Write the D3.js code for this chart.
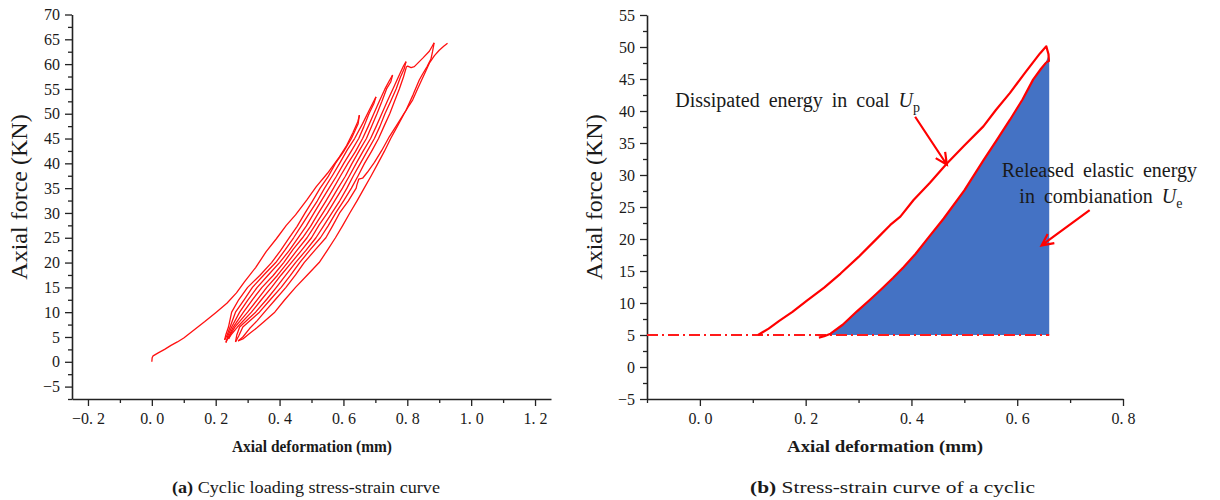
<!DOCTYPE html>
<html>
<head>
<meta charset="utf-8">
<script src="https://cdn.jsdelivr.net/npm/d3@7"></script>
<style>
body { margin: 0; background: #fff; }
svg text { font-family: "Liberation Serif", "Times New Roman", serif; fill: #1a1a1a; }
</style>
</head>
<body>
<svg id="fig" width="1220" height="500"></svg>
<script>
// ---- (a) cyclic loading: each branch is [axial deformation mm, axial force kN]
const firstLoad = [[0,0],[0.001,0.8],[0.004,1.2],[0.02,1.8],[0.04,2.5],[0.06,3.3],[0.08,4.0],[0.1,4.8],[0.13,6.3],[0.166,8.1],[0.2,9.9],[0.235,11.8],[0.265,13.9],[0.29,16.1],[0.325,19.0],[0.358,22.2],[0.39,24.8],[0.421,27.5],[0.45,29.6],[0.485,32.6],[0.515,35.3],[0.55,38.0],[0.5875,41.3],[0.61,43.6],[0.63,46.2],[0.645,48.4],[0.65,49.7]];
const unload1 = [[0.65,49.7],[0.646,48.0],[0.625,45],[0.6,42.3],[0.575,40],[0.552,37.3],[0.527,35],[0.503,32.4],[0.48,30],[0.455,27.3],[0.43,25],[0.403,22.4],[0.375,20],[0.338,17.4],[0.30,15],[0.272,12.5],[0.25,10],[0.24,7],[0.232,5.5],[0.228,4.4]];
const reload1 = [[0.228,4.4],[0.236,5.4],[0.245,7],[0.262,10],[0.29,12.6],[0.315,15],[0.352,17.6],[0.388,20],[0.418,22.6],[0.444,25],[0.47,27.6],[0.494,30],[0.518,32.4],[0.541,35],[0.566,37.6],[0.588,40],[0.612,42.7],[0.635,45],[0.66,48],[0.683,51],[0.702,53.4]];
const unload2 = [[0.702,53.4],[0.695,52],[0.68,50],[0.664,47.4],[0.648,45],[0.625,42.5],[0.601,40],[0.578,37.4],[0.555,35],[0.532,32.6],[0.508,30],[0.484,27.4],[0.458,25],[0.43,22.4],[0.40,20],[0.366,17.6],[0.33,15],[0.30,12.4],[0.275,10],[0.25,7],[0.238,5.2],[0.232,3.9]];
const reload2 = [[0.232,3.9],[0.24,5],[0.255,7],[0.287,10],[0.316,12.6],[0.345,15],[0.38,17.4],[0.413,20],[0.443,22.7],[0.472,25],[0.497,27.3],[0.522,30],[0.545,32.4],[0.569,35],[0.592,37.6],[0.614,40],[0.638,42.4],[0.66,45],[0.678,47.5],[0.695,50],[0.713,52.6],[0.73,55],[0.745,56.8],[0.754,57.8]];
const unload3 = [[0.754,57.8],[0.748,56.4],[0.735,55],[0.72,52.4],[0.705,50],[0.689,47.6],[0.672,45],[0.65,42.6],[0.627,40],[0.606,37.4],[0.583,35],[0.56,32.5],[0.536,30],[0.51,27.4],[0.486,25],[0.455,22.5],[0.425,20],[0.393,17.4],[0.36,15],[0.33,12.5],[0.30,10],[0.26,7],[0.245,5.4],[0.24,4.6]];
const reload3 = [[0.24,4.6],[0.25,5.6],[0.268,7],[0.312,10],[0.343,12.5],[0.375,15],[0.405,17.5],[0.437,20],[0.468,22.4],[0.50,25],[0.524,27.6],[0.55,30],[0.574,32.6],[0.597,35],[0.618,37.4],[0.64,40],[0.663,42.6],[0.685,45],[0.703,47.5],[0.72,50],[0.738,52.6],[0.755,55],[0.772,57.4],[0.788,59.6],[0.796,60.5]];
const unload4 = [[0.796,60.5],[0.79,59],[0.778,57.3],[0.765,55],[0.748,52.5],[0.73,50],[0.714,47.4],[0.697,45],[0.675,42.5],[0.653,40],[0.632,37.6],[0.611,35],[0.588,32.4],[0.564,30],[0.54,27.6],[0.514,25],[0.482,22.4],[0.45,20],[0.42,17.5],[0.39,15],[0.36,12.6],[0.325,10],[0.275,7],[0.266,5.4],[0.262,4.0]];
const reload4 = [[0.262,4.0],[0.272,5.2],[0.285,7],[0.337,10],[0.372,12.6],[0.405,15],[0.434,17.4],[0.463,20],[0.496,22.6],[0.528,25],[0.552,27.4],[0.576,30],[0.602,32.6],[0.625,35],[0.646,37.5],[0.666,40],[0.688,42.4],[0.71,45],[0.728,47.6],[0.745,50],[0.76,52.5],[0.775,55],[0.788,57.4],[0.797,59.4],[0.801,59.6],[0.812,59.3],[0.822,59.5],[0.836,60.4],[0.85,61.3],[0.869,62.6],[0.878,63.6],[0.884,64.3]];
const unload5 = [[0.884,64.3],[0.879,62.5],[0.874,61],[0.862,59.5],[0.848,58],[0.8375,56.8],[0.818,53.8],[0.796,50.7],[0.77,48],[0.744,45.4],[0.72,42.6],[0.697,40.2],[0.675,38.2],[0.66,37],[0.648,36.8],[0.642,35.6],[0.64,35],[0.615,32.4],[0.588,30],[0.567,27.5],[0.545,25],[0.515,22.8],[0.477,20],[0.45,17.5],[0.42,15],[0.385,12.4],[0.358,10.4],[0.33,8.3],[0.306,6.7],[0.285,5],[0.27,4.2]];
const reload5 = [[0.27,4.2],[0.285,4.6],[0.306,5.7],[0.33,6.9],[0.35,8],[0.385,10],[0.415,12.4],[0.45,15],[0.487,17.5],[0.524,20],[0.55,22.5],[0.575,25],[0.598,27.5],[0.62,30],[0.643,32.5],[0.665,35],[0.687,37.5],[0.708,40],[0.728,42.4],[0.748,45],[0.77,47.6],[0.79,50],[0.805,51.6],[0.817,52.8],[0.832,55],[0.845,56.8],[0.858,58.6],[0.869,60.2],[0.885,61.7],[0.9,62.8],[0.914,63.6],[0.926,64.2]];
const cycles = [firstLoad, unload1, reload1, unload2, reload2, unload3, reload3, unload4, reload4, unload5, reload5];

// ---- (b) a single cycle
const loadCurve = [[0.11,5],[0.13,6],[0.15,7.2],[0.175,8.6],[0.203,10.4],[0.235,12.4],[0.266,14.6],[0.30,17.2],[0.335,20.1],[0.36,22.2],[0.379,23.5],[0.404,26.1],[0.435,28.8],[0.467,31.8],[0.5,34.6],[0.536,37.6],[0.56,40.2],[0.586,42.8],[0.615,46],[0.643,49],[0.655,50.1],[0.659,48.9],[0.66,47.8],[0.655,47.6]];
const unloadCurve = [[0.655,47.6],[0.645,46.6],[0.63,44.9],[0.61,41.8],[0.586,38.6],[0.56,35.3],[0.536,32.3],[0.5,27.6],[0.461,23.2],[0.429,19.9],[0.408,17.7],[0.385,15.6],[0.365,13.9],[0.341,12.0],[0.32,10.4],[0.297,8.7],[0.27,6.6],[0.247,5.2],[0.235,4.8],[0.225,4.6]];
const elasticArea = [[0.242,5],[0.247,5.2],[0.27,6.6],[0.297,8.7],[0.32,10.4],[0.341,12.0],[0.365,13.9],[0.385,15.6],[0.408,17.7],[0.429,19.9],[0.461,23.2],[0.5,27.6],[0.536,32.3],[0.56,35.3],[0.586,38.6],[0.61,41.8],[0.63,44.9],[0.645,46.6],[0.655,47.8],[0.6605,49.0]];
const baseForce = 5;
const baseRange = [-0.1, 0.6605];

// ticks
const xTicksA = [-0.2, 0, 0.2, 0.4, 0.6, 0.8, 1.0, 1.2];
const xMinorA = [-0.1, 0.1, 0.3, 0.5, 0.7, 0.9, 1.1];
const yTicksA = d3.range(-5, 71, 5);
const yMinorA = d3.range(-7.5, 70, 5);
const xTicksB = [0, 0.2, 0.4, 0.6, 0.8];
const xMinorB = [-0.1, 0.1, 0.3, 0.5, 0.7];
const yTicksB = d3.range(-5, 56, 5);
const yMinorB = d3.range(-2.5, 55, 5);

const svg = d3.select("#fig");
const fmt = d3.format(".1f");

const xA = d3.scaleLinear().domain([-0.25, 1.25]).range([72, 551]);
const yA = d3.scaleLinear().domain([-7.5, 70]).range([399, 14.5]);
const xB = d3.scaleLinear().domain([-0.1, 0.8]).range([647, 1123]);
const yB = d3.scaleLinear().domain([-5, 55]).range([399, 15]);

function axes(x, y, xt, xm, yt, ym) {
    let g = svg.append("g");
    let base = y.range()[0], left = x.range()[0];
    g.append("g").attr("transform", "translate(0," + base + ")")
        .call(d3.axisBottom(x).tickValues(xm).tickSize(4).tickFormat("").tickSizeOuter(0))
        .call(s => s.select(".domain").remove());
    g.append("g").attr("transform", "translate(" + left + ",0)")
        .call(d3.axisLeft(y).tickValues(ym).tickSize(4).tickFormat("").tickSizeOuter(0))
        .call(s => s.select(".domain").remove());
    g.append("g").attr("class", "xa").attr("transform", "translate(0," + base + ")")
        .call(d3.axisBottom(x).tickValues(xt).tickSize(7).tickPadding(7).tickSizeOuter(0)
            .tickFormat(d => fmt(d).replace(".", ". ")));
    g.append("g").attr("class", "ya").attr("transform", "translate(" + left + ",0)")
        .call(d3.axisLeft(y).tickValues(yt).tickSize(7).tickPadding(5).tickSizeOuter(0));
    g.selectAll("path.domain").attr("stroke", "#222").attr("stroke-width", 1.6);
    g.selectAll(".tick line").attr("stroke", "#222").attr("stroke-width", 1.3);
    g.selectAll(".tick text").style("font-size", "16px")
        .style("font-family", '"Liberation Serif", serif').attr("fill", "#333");
    return g;
}

axes(xA, yA, xTicksA, xMinorA, yTicksA, yMinorA);
axes(xB, yB, xTicksB, xMinorB, yTicksB, yMinorB);

// (a) curves
const lineA = d3.line().x(d => xA(d[0])).y(d => yA(d[1]));
svg.append("g").selectAll("path").data(cycles).enter().append("path")
    .attr("d", lineA).attr("fill", "none")
    .attr("stroke", "#ff1010").attr("stroke-width", 1.3).attr("stroke-linejoin", "round");

// (b) area + curves
const areaB = d3.area().x(d => xB(d[0])).y0(yB(baseForce)).y1(d => yB(d[1]));
svg.append("path").datum(elasticArea).attr("d", areaB).attr("fill", "#4472c4");

svg.append("line")
    .attr("x1", xB(baseRange[0])).attr("x2", xB(baseRange[1]))
    .attr("y1", yB(baseForce)).attr("y2", yB(baseForce))
    .attr("stroke", "#ff1a1a").attr("stroke-width", 2)
    .attr("stroke-dasharray", "11,4,2,4");

const lineB = d3.line().x(d => xB(d[0])).y(d => yB(d[1]));
svg.append("g").selectAll("path").data([loadCurve, unloadCurve]).enter().append("path")
    .attr("d", lineB).attr("fill", "none")
    .attr("stroke", "#ff0000").attr("stroke-width", 2.2).attr("stroke-linejoin", "round");

// annotations
function arrow(x1, y1, x2, y2) {
    let a = Math.atan2(y2 - y1, x2 - x1), L = 13, w = 0.45;
    let p = d3.path();
    p.moveTo(x1, y1); p.lineTo(x2, y2);
    p.moveTo(x2 - L * Math.cos(a - w), y2 - L * Math.sin(a - w));
    p.lineTo(x2, y2);
    p.lineTo(x2 - L * Math.cos(a + w), y2 - L * Math.sin(a + w));
    svg.append("path").attr("d", p.toString()).attr("fill", "none")
        .attr("stroke", "#ff0000").attr("stroke-width", 2.2);
}
arrow(xB(0.407), yB(39.1), xB(0.467), yB(31.6));
arrow(xB(0.737), yB(24.5), xB(0.646), yB(19.0));

function label(x, y, txt, sub) {
    let t = svg.append("text").attr("x", x).attr("y", y)
        .style("font-size", "20px").style("word-spacing", "4px");
    t.append("tspan").text(txt + " ");
    t.append("tspan").style("font-style", "italic").text("U");
    t.append("tspan").attr("dy", 5).style("font-size", "14px").text(sub);
}
label(xB(-0.0466), yB(40.6), "Dissipated energy in coal", "p");
svg.append("text").attr("x", xB(0.5707)).attr("y", yB(29.7))
    .style("font-size", "20px").style("word-spacing", "4px").text("Released elastic energy");
label(xB(0.604), yB(25.7), "in combianation", "e");

// axis titles
[19, 594].forEach(function (cx) {
    svg.append("text").attr("transform", "translate(" + (cx + 8) + ",197) rotate(-90)")
        .attr("text-anchor", "middle").style("font-size", "24px").text("Axial force (KN)");
});
svg.append("text").attr("x", 312).attr("y", 452).attr("text-anchor", "middle")
    .style("font-size", "17px").style("font-weight", "bold")
    .attr("textLength", 160).attr("lengthAdjust", "spacingAndGlyphs").text("Axial deformation (mm)");
svg.append("text").attr("x", 885).attr("y", 452).attr("text-anchor", "middle")
    .style("font-size", "17px").style("font-weight", "bold")
    .attr("textLength", 196).attr("lengthAdjust", "spacingAndGlyphs").text("Axial deformation (mm)");

function caption(x, len, tag, txt) {
    let t = svg.append("text").attr("x", x).attr("y", 493).style("font-size", "17px")
        .attr("textLength", len).attr("lengthAdjust", "spacingAndGlyphs");
    t.append("tspan").style("font-weight", "bold").text(tag + " ");
    t.append("tspan").text(txt);
}
caption(172, 268, "(a)", "Cyclic loading stress-strain curve");
caption(750, 285, "(b)", "Stress-strain curve of a cyclic");
</script>
</body>
</html>
